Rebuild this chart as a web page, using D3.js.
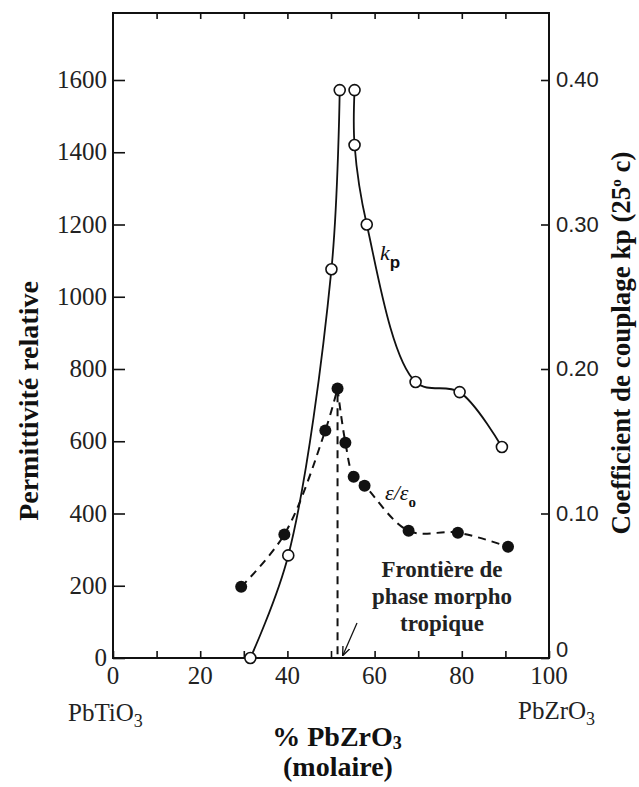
<!DOCTYPE html>
<html>
<head>
<meta charset="utf-8">
<script src="https://cdn.jsdelivr.net/npm/d3@7"></script>
<style>
  body { margin: 0; background: #fff; }
  svg { display: block; }
</style>
</head>
<body>
<div id="chart"></div>
<script>
// Data

// kp (open circles), right axis
var kpX = [31.5, 40.2, 50.1, 52.0, 55.4, 55.4, 58.2, 69.4, 79.5, 89.2];
var kpVal = [0, 0.071, 0.269, 0.393, 0.393, 0.355, 0.300, 0.191, 0.184, 0.146];

// relative permittivity (filled circles), left axis
var epsX = [29.4, 39.3, 48.7, 51.5, 53.3, 55.2, 57.7, 67.8, 79.1, 90.6];
var epsVal = [197, 342, 630, 746, 596, 502, 477, 352, 347, 308];

// morphotropic boundary
var boundaryX = 51.5;

// tick values
var xTicks = [0, 20, 40, 60, 80, 100];
var xMinor = [10, 30, 50, 70, 90];
var yLeftTicks = [0, 200, 400, 600, 800, 1000, 1200, 1400, 1600];
var yRightTicks = [0, 0.10, 0.20, 0.30, 0.40];
var yRightLabels = ["0", "0.10", "0.20", "0.30", "0.40"];

// Setup
var width = 639;
var height = 787;
var plotLeft = 113, plotRight = 549, plotTop = 13, plotBottom = 658;

var svg = d3
    .select("#chart")
    .append("svg")
    .attr("width", width)
    .attr("height", height);

var x = d3.scaleLinear().domain([0, 100]).range([plotLeft, plotRight]);
var yL = d3.scaleLinear().domain([0, 1600]).range([plotBottom, 80]);
var yR = d3.scaleLinear().domain([0, 0.4]).range([plotBottom, 80]);

var serif = "'Liberation Serif', 'Times New Roman', serif";
var sans = "'Liberation Sans', Arial, sans-serif";

// Axes (ticks drawn inward)
var gBottom = svg.append("g")
    .attr("transform", "translate(0," + plotBottom + ")")
    .call(d3.axisTop(x).tickValues(xTicks.concat(xMinor)).tickSize(7).tickFormat(""));

var gTop = svg.append("g")
    .attr("transform", "translate(0," + plotTop + ")")
    .call(d3.axisBottom(x).tickValues(d3.range(10, 100, 10)).tickSize(6).tickFormat(""));

var gLeft = svg.append("g")
    .attr("transform", "translate(" + plotLeft + ",0)")
    .call(d3.axisRight(yL).tickValues(yLeftTicks).tickSize(12).tickFormat(""));

var gRight = svg.append("g")
    .attr("transform", "translate(" + plotRight + ",0)")
    .call(d3.axisLeft(yR).tickValues(yRightTicks).tickSize(8).tickFormat(""));

[gBottom, gTop, gLeft, gRight].forEach(function (g) {
    g.select(".domain").remove();
    g.selectAll("line").attr("stroke", "#111").attr("stroke-width", 1.6);
});

// frame
svg.append("rect")
    .attr("x", plotLeft)
    .attr("y", plotTop)
    .attr("width", plotRight - plotLeft)
    .attr("height", plotBottom - plotTop)
    .attr("fill", "none")
    .attr("stroke", "#111")
    .attr("stroke-width", 2);

// tick labels
svg.append("g").selectAll("text")
    .data(xTicks)
    .join("text")
    .attr("x", function (d) { return x(d); })
    .attr("y", 684)
    .attr("text-anchor", "middle")
    .style("font-family", serif)
    .style("font-size", "25px")
    .attr("fill", "#222")
    .text(function (d) { return d; });

svg.append("g").selectAll("text")
    .data(yLeftTicks)
    .join("text")
    .attr("x", 107)
    .attr("y", function (d) { return yL(d) + 8; })
    .attr("text-anchor", "end")
    .style("font-family", serif)
    .style("font-size", "25px")
    .attr("fill", "#222")
    .text(function (d) { return d; });

svg.append("g").selectAll("text")
    .data(yRightTicks)
    .join("text")
    .attr("x", 556)
    .attr("y", function (d) { return yR(d) + 7 - (d === 0 ? 8 : 0); })
    .style("font-family", sans)
    .style("font-size", "22px")
    .attr("fill", "#222")
    .text(function (d, i) { return yRightLabels[i]; });

// end member labels
svg.append("text")
    .attr("x", 68).attr("y", 721)
    .style("font-family", serif).style("font-size", "25px").attr("fill", "#222")
    .html("PbTiO<tspan dy='6' font-size='18px'>3</tspan>");

svg.append("text")
    .attr("x", 518).attr("y", 719)
    .style("font-family", serif).style("font-size", "25px").attr("fill", "#222")
    .html("PbZrO<tspan dy='6' font-size='18px'>3</tspan>");

// axis titles
svg.append("text")
    .attr("x", 337).attr("y", 746)
    .attr("text-anchor", "middle")
    .style("font-family", serif).style("font-size", "28px").style("font-weight", "bold")
    .attr("fill", "#111")
    .html("% PbZrO<tspan dy='3' font-size='18px'>3</tspan>");

svg.append("text")
    .attr("x", 338).attr("y", 776)
    .attr("text-anchor", "middle")
    .style("font-family", serif).style("font-size", "28px").style("font-weight", "bold")
    .attr("fill", "#111")
    .text("(molaire)");

svg.append("text")
    .attr("transform", "translate(38,401) rotate(-90)")
    .attr("text-anchor", "middle")
    .style("font-family", serif).style("font-size", "28px").style("font-weight", "bold")
    .attr("fill", "#111")
    .text("Permittivité relative");

svg.append("text")
    .attr("transform", "translate(630,343) rotate(-90)")
    .attr("text-anchor", "middle")
    .style("font-family", serif).style("font-size", "27px").style("font-weight", "bold")
    .attr("fill", "#111")
    .html("Coefficient de couplage kp (25<tspan dy='-9' font-size='15px'>o</tspan><tspan dy='9'> c)</tspan>");

// curves
var kpLine = d3.line()
    .x(function (d) { return x(d[0]); })
    .y(function (d) { return yR(d[1]); })
    .curve(d3.curveCatmullRom.alpha(0.5));

var epsLine = d3.line()
    .x(function (d) { return x(d[0]); })
    .y(function (d) { return yL(d[1]); })
    .curve(d3.curveCatmullRom.alpha(0.5));

var kpPts = kpX.map(function (v, i) { return [v, kpVal[i]]; });
var epsPts = epsX.map(function (v, i) { return [v, epsVal[i]]; });

// split at the peak so both branches meet in a cusp
var kpBranches = [kpPts.slice(0, 4), kpPts.slice(4)];
var epsBranches = [epsPts.slice(0, 4), epsPts.slice(3)];

svg.append("g").selectAll("path")
    .data(kpBranches)
    .join("path")
    .attr("d", kpLine)
    .attr("fill", "none")
    .attr("stroke", "#111")
    .attr("stroke-width", 1.8);

svg.append("g").selectAll("path")
    .data(epsBranches)
    .join("path")
    .attr("d", epsLine)
    .attr("fill", "none")
    .attr("stroke", "#111")
    .attr("stroke-width", 2)
    .attr("stroke-dasharray", "8,6");

// boundary line
svg.append("line")
    .attr("x1", x(boundaryX)).attr("x2", x(boundaryX))
    .attr("y1", yL(730)).attr("y2", yL(0))
    .attr("stroke", "#111")
    .attr("stroke-width", 2)
    .attr("stroke-dasharray", "8,6");

// markers
svg.append("g").selectAll("circle")
    .data(kpPts)
    .join("circle")
    .attr("cx", function (d) { return x(d[0]); })
    .attr("cy", function (d) { return yR(d[1]); })
    .attr("r", 5.5)
    .attr("fill", "#fff")
    .attr("stroke", "#111")
    .attr("stroke-width", 1.6);

svg.append("g").selectAll("circle")
    .data(epsPts)
    .join("circle")
    .attr("cx", function (d) { return x(d[0]); })
    .attr("cy", function (d) { return yL(d[1]); })
    .attr("r", 6)
    .attr("fill", "#111");

// curve labels
svg.append("text")
    .attr("x", 380).attr("y", 260)
    .style("font-family", serif).style("font-size", "22px").style("font-style", "italic")
    .attr("fill", "#111")
    .html("k<tspan dy='8' font-size='17px' font-style='normal' font-weight='bold' font-family=\"'Liberation Sans', Arial, sans-serif\">p</tspan>");

svg.append("text")
    .attr("x", 385).attr("y", 500)
    .style("font-family", serif).style("font-size", "22px").style("font-style", "italic")
    .attr("fill", "#111")
    .html("ε/ε<tspan dy='7' font-size='15px' font-style='normal' font-weight='bold'>o</tspan>");

// boundary annotation
var note = ["Frontière de", "phase morpho", "tropique"];
svg.append("g").selectAll("text")
    .data(note)
    .join("text")
    .attr("x", 442)
    .attr("y", function (d, i) { return 577 + i * 27; })
    .attr("text-anchor", "middle")
    .style("font-family", serif).style("font-size", "23px").style("font-weight", "bold")
    .attr("fill", "#222")
    .text(function (d) { return d; });

// arrow to the boundary
svg.append("defs").append("marker")
    .attr("id", "arr")
    .attr("viewBox", "0 0 10 10")
    .attr("refX", 9).attr("refY", 5)
    .attr("markerWidth", 7).attr("markerHeight", 7)
    .attr("orient", "auto")
    .append("path")
    .attr("d", "M0,1 L10,5 L0,9")
    .attr("fill", "none")
    .attr("stroke", "#111")
    .attr("stroke-width", 1.5);

svg.append("line")
    .attr("x1", 357).attr("y1", 623)
    .attr("x2", 343).attr("y2", 655)
    .attr("stroke", "#111")
    .attr("stroke-width", 1.3)
    .attr("marker-end", "url(#arr)");
</script>
</body>
</html>
